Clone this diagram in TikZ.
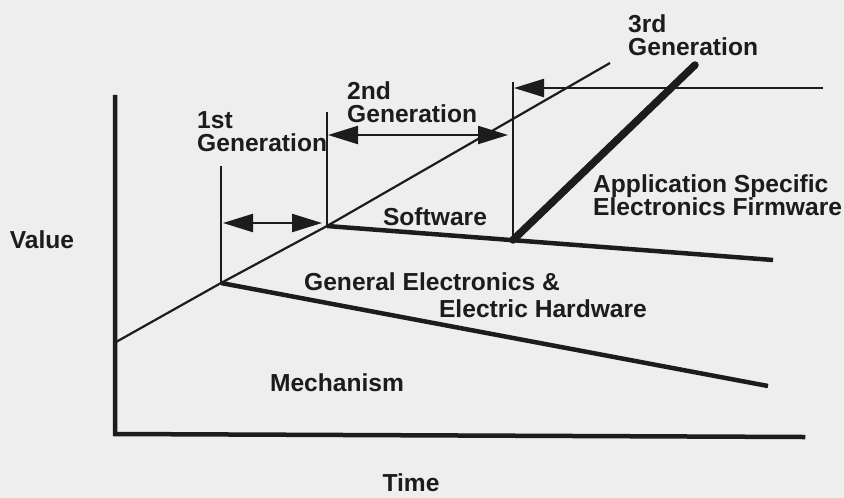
\documentclass[tikz,border=0pt]{standalone}
\usepackage{fontspec}
\setmainfont{Liberation Sans}
\usetikzlibrary{arrows.meta}
\definecolor{ink}{HTML}{1C1C1C}
\definecolor{paper}{HTML}{EEEEEE}
\tikzset{
  lbl/.style={inner sep=0pt, text=ink, font=\fontsize{24.6}{23}\selectfont\bfseries},
  thinline/.style={draw=ink, line width=2.2pt},
  thickline/.style={draw=ink, line width=4.5pt},
  axisline/.style={draw=ink, line width=4.5pt, line cap=rect},
  asefline/.style={draw=ink, line width=7.5pt, line cap=round},
  genarrow/.style={draw=ink, line width=2.2pt},
  tri/.tip={Triangle[length=30pt,width=18pt]}
}
\begin{document}
\begin{tikzpicture}[x=1pt,y=-1pt]
\fill[paper] (0,0) rectangle (844,498);
\useasboundingbox (0,0) rectangle (844,498);
% coordinates
\coordinate (vtop) at (115,97);
\coordinate (orig) at (115,434);
\coordinate (hend) at (803,437);
\coordinate (d0) at (116,342);
\coordinate (j1) at (221,283);
\coordinate (j2) at (327,226);
\coordinate (dend) at (610,63);
\coordinate (geend) at (768,386);
\coordinate (swend) at (773,260);
\coordinate (j3) at (513,240);
\coordinate (aseftop) at (695,65);
\coordinate (g1top) at (221,166);
\coordinate (g2top) at (327,112);
\coordinate (g3top) at (513,82);
\coordinate (a1l) at (223,223);
\coordinate (a1r) at (322,223);
\coordinate (a2l) at (328,135);
\coordinate (a2r) at (508,135);
\coordinate (a3l) at (514,88);
\coordinate (a3r) at (823,88);
% axes
\draw[axisline] (vtop) -- (orig) -- (hend);
% diagonal
\draw[thinline] (d0) -- (j1) -- (j2) -- (dend);
% layer boundaries
\draw[thickline] (j1) -- (geend);
\draw[thickline] (j2) -- (swend);
\draw[asefline] (j3) -- (aseftop);
% generation markers
\draw[thinline] (g1top) -- (j1);
\draw[thinline] (g2top) -- (j2);
\draw[thinline] (g3top) -- (j3);
\draw[genarrow, {tri}-{tri}] (a1l) -- (a1r);
\draw[genarrow, {tri}-{tri}] (a2l) -- (a2r);
\draw[genarrow, {tri}-] (a3l) -- (a3r);
% labels
\node[lbl, anchor=north west, align=left] (gen1) at (197,111) {1st\\Generation};
\node[lbl, anchor=north west, align=left] (gen2) at (347,81) {2nd\\Generation};
\node[lbl, anchor=north west, align=left] (gen3) at (628,14) {3rd\\Generation};
\node[lbl, anchor=north west, align=left] (asef) at (593,174) {Application Specific\\Electronics Firmware};
\node[lbl] (sw) at (435,217) {Software};
\node[lbl] (ge1) at (432,282) {General Electronics \&};
\node[lbl] (ge2) at (543,309) {Electric Hardware};
\node[lbl] (mech) at (337,383) {Mechanism};
\node[lbl] (val) at (42,240) {Value};
\node[lbl] (time) at (411,483) {Time};
\end{tikzpicture}
\end{document}
